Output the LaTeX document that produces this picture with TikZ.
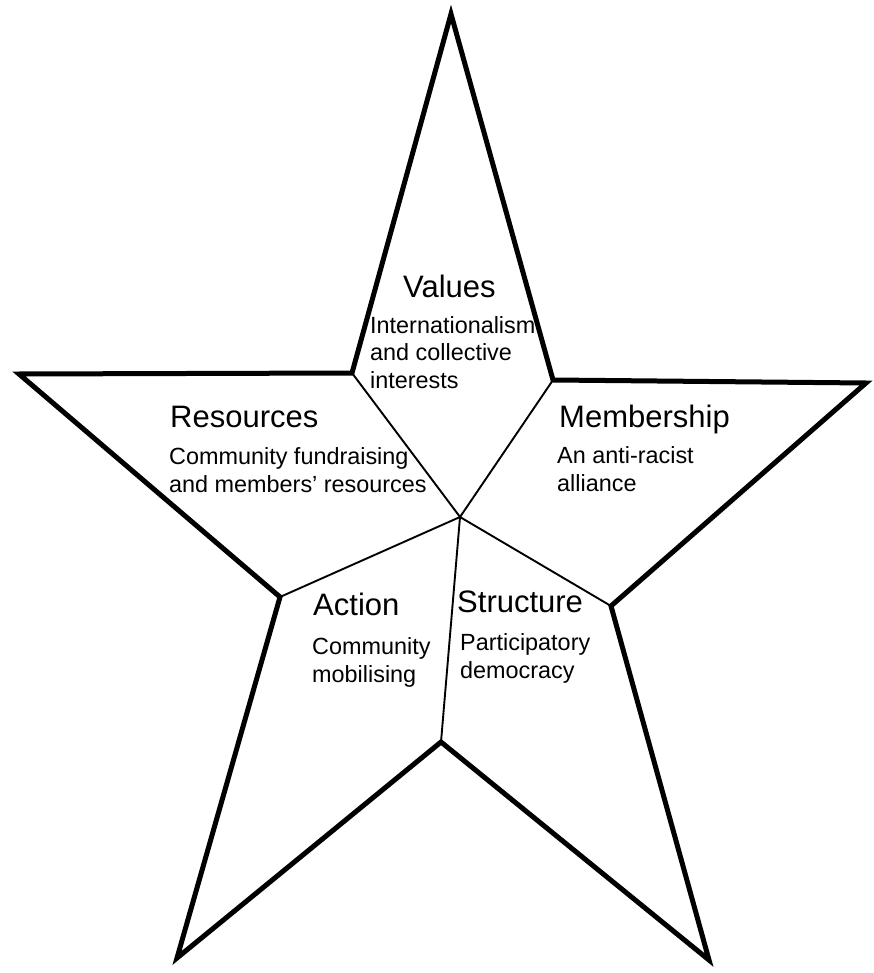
\documentclass[tikz,border=0pt]{standalone}
\usepackage{fontspec}
\setmainfont{Liberation Sans}
\begin{document}
\begin{tikzpicture}[x=1pt,y=-1pt,
  outline/.style={line width=5pt,line join=miter},
  divider/.style={line width=1.9pt},
  heading/.style={anchor=base west,inner sep=0pt,font=\fontsize{31}{35}\selectfont},
  detail/.style={anchor=base west,inner sep=0pt,align=left,font=\fontsize{23.4}{27.5}\selectfont}]
\useasboundingbox (0,0) rectangle (874,973);
% outer tips of the star
\coordinate (tTop) at (451,14);
\coordinate (tRight) at (866,383);
\coordinate (tBR) at (709,960);
\coordinate (tBL) at (177,958);
\coordinate (tLeft) at (19,374);
% inner corners
\coordinate (iUR) at (553,380);
\coordinate (iR) at (611,606);
\coordinate (iB) at (441,742);
\coordinate (iL) at (280,597);
\coordinate (iUL) at (352,373);
\coordinate (ctr) at (460,517);
% spokes from the centre to the inner corners
\foreach \p in {iUR,iR,iB,iL,iUL} \draw[divider] (ctr) -- (\p);
% star outline
\draw[outline] (tTop) -- (iUR) -- (tRight) -- (iR) -- (tBR) -- (iB) -- (tBL) -- (iL) -- (tLeft) -- (iUL) -- cycle;
% labels (detail nodes are placed by the baseline of their last line)
\node[heading] (valH) at (403,297) {Values};
\node[detail] (valT) at (370,388) {Internationalism\\and collective\\interests};
\node[heading] (resH) at (170,427) {Resources};
\node[detail] (resT) at (169,492) {Community fundraising\\and members\char"0027{} resources};
\node[heading] (memH) at (559,427) {Membership};
\node[detail] (memT) at (557,491) {An anti-racist\\alliance};
\node[heading] (actH) at (313,615) {Action};
\node[detail] (actT) at (312,682) {Community\\mobilising};
\node[heading] (strH) at (457,612) {Structure};
\node[detail] (strT) at (460,678) {Participatory\\democracy};
\end{tikzpicture}
\end{document}
